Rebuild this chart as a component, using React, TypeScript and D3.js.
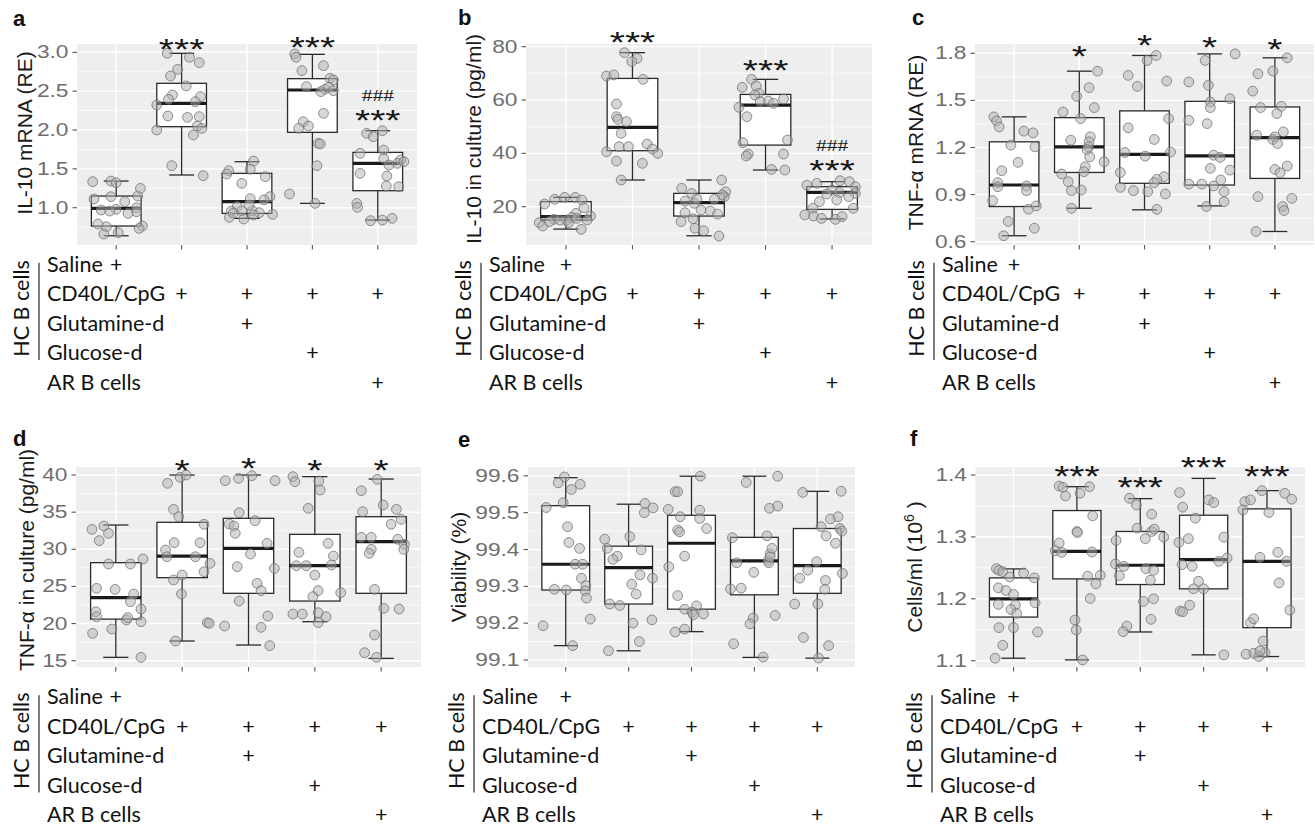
import React from "react";
import * as d3 from "d3";

// ---------------- shared data ----------------
const categories = ["Saline", "CD40L/CpG", "Glutamine-d", "Glucose-d", "AR B cells"];
const tableRows = ["Saline", "CD40L/CpG", "Glutamine-d", "Glucose-d", "AR B cells"];
const plusMarks = [
  [1, 0, 0, 0, 0],
  [0, 1, 1, 1, 1],
  [0, 0, 1, 0, 0],
  [0, 0, 0, 1, 0],
  [0, 0, 0, 0, 1],
];
const groupLabel = "HC B cells";

// ---------------- panel a ----------------
const aTicks = [1.0, 1.5, 2.0, 2.5, 3.0];
const aDomain = [0.52, 3.107];
const aBoxes = [
  [0.639, 0.764, 0.991, 1.15, 1.343],
  [1.421, 2.043, 2.343, 2.601, 2.987],
  [0.863, 0.927, 1.077, 1.442, 1.592],
  [1.056, 1.97, 2.515, 2.661, 2.974],
  [0.841, 1.219, 1.571, 1.712, 1.991],
];
const aPoints = [
  [[-0.36, 1.335], [-0.08, 1.343], [0, 1.322], [-0.34, 1.112], [-0.08, 1.142], [0.13, 1.077], [0.33, 1.15], [0.37, 1.249], [-0.23, 0.97], [0, 0.979], [-0.1, 0.957], [0.31, 1.0], [0.31, 0.948], [0.4, 0.764], [-0.15, 0.755], [-0.19, 0.661], [0.03, 0.678], [0.35, 0.734], [-0.28, 0.79], [0.18, 0.927]],
  [[-0.22, 2.987], [0.12, 2.936], [0.27, 2.867], [-0.06, 2.781], [-0.17, 2.695], [0.07, 2.567], [-0.14, 2.451], [0.29, 2.429], [-0.2, 2.395], [0.21, 2.365], [-0.38, 2.322], [-0.21, 2.18], [0.09, 2.163], [0.27, 2.172], [0.24, 2.052], [0.31, 2.021], [-0.38, 2.0], [0.18, 1.936], [-0.15, 1.541], [0.33, 1.412]],
  [[0.1, 1.601], [-0.28, 1.476], [0.05, 1.494], [-0.31, 1.433], [0.28, 1.399], [-0.08, 1.313], [0.35, 1.142], [0.05, 1.116], [-0.15, 1.013], [-0.24, 0.957], [-0.08, 0.961], [0.08, 0.961], [0.19, 0.936], [0.39, 0.914], [-0.27, 0.876], [-0.05, 0.854], [0.1, 0.906], [-0.21, 0.93], [0.26, 1.1], [0.03, 1.034]],
  [[-0.27, 2.979], [-0.25, 2.936], [-0.16, 2.764], [0.17, 2.828], [-0.09, 2.558], [0.27, 2.665], [0.32, 2.644], [0.19, 2.524], [0.13, 2.494], [0.25, 2.55], [0.17, 2.215], [-0.14, 2.107], [-0.06, 2.052], [-0.21, 2.021], [0.09, 1.828], [0.12, 1.82], [0.07, 1.541], [-0.35, 1.176], [0.04, 1.056], [0.32, 2.506]],
  [[-0.17, 1.957], [0.07, 1.991], [-0.07, 1.914], [-0.27, 1.7], [0.09, 1.742], [0.09, 1.635], [0.35, 1.614], [0.3, 1.571], [0.17, 1.549], [-0.27, 1.442], [0.14, 1.408], [0.32, 1.27], [0.13, 1.279], [-0.32, 1.056], [-0.31, 1.004], [-0.11, 0.833], [0.07, 0.841], [0.22, 0.863], [0.4, 1.592]],
];
const aSig = [
  { cat: 1, text: "***", value: 3.136 },
  { cat: 3, text: "***", value: 3.158 },
  { cat: 4, text: "###", value: 2.45 },
  { cat: 4, text: "***", value: 2.215 },
];

// ---------------- panel b ----------------
const bTicks = [20, 40, 60, 80];
const bDomain = [5.64, 81.0];
const bBoxes = [
  [11.6, 15.0, 16.25, 21.9, 23.5],
  [30.0, 41.0, 49.75, 68.1, 77.75],
  [9.1, 16.5, 21.5, 25.0, 30.0],
  [33.75, 43.1, 58.1, 62.1, 67.75],
  [15.4, 19.0, 25.4, 27.5, 29.4],
];
const bPoints = [
  [[-0.32, 21.0], [-0.17, 22.75], [-0.02, 23.5], [0.14, 23.5], [0.24, 22.5], [0.27, 19.6], [0.15, 17.5], [0.09, 16.0], [0.01, 15.0], [0.37, 16.5], [-0.18, 15.25], [-0.4, 14.0], [-0.35, 12.75], [-0.25, 14.4], [0.04, 14.0], [0.23, 11.5], [-0.09, 15.0], [0.32, 15.0], [0.16, 15.6]],
  [[-0.12, 77.75], [0.07, 75.6], [-0.01, 74.4], [-0.39, 69.0], [-0.28, 69.4], [0.16, 67.75], [-0.24, 58.5], [-0.24, 53.75], [-0.22, 52.75], [-0.09, 51.9], [-0.17, 47.5], [-0.39, 40.6], [-0.2, 42.5], [-0.06, 42.5], [0.22, 43.5], [0.3, 41.6], [0.38, 40.0], [-0.24, 37.1], [0.15, 36.25], [-0.17, 30.0]],
  [[0.34, 30.0], [-0.26, 26.9], [-0.11, 25.0], [0.4, 25.6], [0.38, 23.75], [-0.21, 22.1], [-0.07, 21.25], [0.23, 22.75], [0.03, 18.75], [0.17, 18.4], [0.28, 17.25], [-0.21, 17.75], [-0.09, 15.5], [-0.27, 14.4], [-0.06, 11.9], [0.07, 11.0], [0.3, 9.0], [0.35, 24.4], [-0.03, 22.9]],
  [[-0.21, 67.75], [-0.35, 64.75], [-0.14, 65.25], [-0.1, 62.5], [-0.16, 61.9], [0.04, 59.6], [0.12, 58.75], [0.27, 60.4], [-0.4, 57.25], [-0.28, 53.75], [-0.34, 44.0], [0.33, 45.0], [-0.26, 39.75], [-0.29, 39.0], [0.27, 39.75], [0.09, 34.0], [0.29, 33.75], [-0.08, 59.4]],
  [[-0.23, 28.75], [0.12, 29.75], [0.26, 29.4], [0.35, 27.5], [-0.38, 28.1], [0.0, 26.25], [0.11, 25.25], [0.35, 25.0], [-0.08, 24.75], [-0.19, 21.9], [0.07, 22.5], [0.25, 23.75], [-0.29, 19.4], [0.32, 19.4], [-0.28, 16.5], [-0.16, 15.6], [0.05, 15.25], [0.15, 16.25], [-0.41, 16.9]],
];
const bSig = [
  { cat: 1, text: "***", value: 84.4 },
  { cat: 3, text: "***", value: 73.8 },
  { cat: 4, text: "###", value: 43.1 },
  { cat: 4, text: "***", value: 36.3 },
];

// ---------------- panel c ----------------
const cTicks = [0.6, 0.9, 1.2, 1.5, 1.8];
const cDomain = [0.579, 1.859];
const cBoxes = [
  [0.638, 0.824, 0.961, 1.236, 1.395],
  [0.813, 1.041, 1.204, 1.39, 1.686],
  [0.803, 0.972, 1.156, 1.433, 1.786],
  [0.828, 0.961, 1.147, 1.494, 1.796],
  [0.665, 1.003, 1.263, 1.458, 1.771],
];
const cPoints = [
  [[-0.31, 1.395], [-0.27, 1.369], [-0.23, 1.331], [0.15, 1.304], [0.29, 1.293], [-0.05, 1.215], [0.32, 1.204], [0.06, 1.105], [-0.19, 1.052], [-0.25, 0.976], [-0.25, 0.95], [0.19, 0.955], [0.19, 0.925], [-0.33, 0.862], [0.22, 0.807], [0.34, 0.828], [-0.09, 0.729], [0.31, 0.686], [-0.16, 0.638]],
  [[0.28, 1.686], [0.15, 1.581], [-0.04, 1.526], [0.23, 1.454], [-0.25, 1.426], [0.02, 1.384], [-0.13, 1.246], [0.17, 1.268], [0.15, 1.236], [0.14, 1.204], [0.12, 1.187], [0.16, 1.14], [0.38, 1.109], [0.09, 1.077], [0.07, 1.046], [-0.27, 1.031], [-0.17, 0.982], [-0.12, 0.925], [0.03, 0.929], [-0.12, 0.813]],
  [[0.04, 1.754], [0.18, 1.786], [-0.25, 1.659], [-0.11, 1.589], [0.34, 1.623], [-0.25, 1.325], [0.37, 1.384], [0.15, 1.251], [-0.3, 1.168], [0.01, 1.145], [0.4, 1.171], [-0.37, 1.041], [0.3, 1.014], [0.19, 0.997], [0.15, 0.976], [-0.37, 0.946], [-0.17, 0.925], [0.05, 0.919], [0.32, 0.904], [0.19, 0.806]],
  [[0.39, 1.796], [-0.07, 1.754], [-0.32, 1.617], [-0.02, 1.596], [0.31, 1.511], [0.01, 1.49], [0.01, 1.454], [-0.32, 1.373], [-0.04, 1.352], [0.06, 1.151], [0.16, 1.137], [0.01, 1.067], [0.31, 1.056], [-0.32, 0.967], [-0.12, 0.967], [0.06, 0.955], [0.17, 0.993], [0.22, 0.919], [0.22, 0.855], [-0.05, 0.824]],
  [[0.19, 1.771], [-0.26, 1.669], [-0.03, 1.686], [-0.34, 1.559], [-0.22, 1.454], [0.1, 1.462], [0.03, 1.416], [0.13, 1.3], [-0.28, 1.278], [0.0, 1.268], [-0.03, 1.251], [0.04, 1.225], [0.0, 1.06], [0.08, 1.039], [0.19, 1.082], [-0.26, 0.887], [0.26, 0.876], [0.12, 0.824], [0.14, 0.798], [-0.29, 0.665]],
];
const cSig = [
  { cat: 1, text: "*", value: 1.83 },
  { cat: 2, text: "*", value: 1.895 },
  { cat: 3, text: "*", value: 1.888 },
  { cat: 4, text: "*", value: 1.873 },
];

// ---------------- panel d ----------------
const dTicks = [15, 20, 25, 30, 35, 40];
const dDomain = [14.15, 41.08];
const dBoxes = [
  [15.45, 20.6, 23.48, 28.2, 33.27],
  [17.65, 26.18, 29.09, 33.63, 40.0],
  [17.11, 24.07, 30.13, 34.17, 40.0],
  [20.25, 23.03, 27.79, 32.01, 39.78],
  [15.31, 24.07, 31.02, 34.39, 39.46],
];
const dPoints = [
  [[-0.36, 32.68], [-0.18, 33.13], [-0.11, 32.15], [-0.25, 31.16], [-0.11, 28.02], [0.22, 28.02], [0.41, 28.69], [-0.29, 24.74], [-0.01, 24.6], [0.27, 23.98], [0.22, 22.94], [0.38, 21.96], [-0.3, 21.6], [-0.29, 20.92], [0.16, 20.48], [0.18, 20.79], [0.38, 20.25], [-0.06, 19.26], [-0.35, 18.68], [0.38, 15.45]],
  [[-0.22, 38.88], [-0.03, 39.69], [0.06, 40.0], [-0.13, 35.38], [-0.05, 34.39], [0.33, 33.36], [-0.25, 29.9], [-0.12, 30.89], [0.27, 30.89], [-0.23, 29.0], [0.2, 29.0], [0.33, 26.98], [0.42, 28.1], [0.0, 26.53], [-0.13, 25.86], [-0.01, 23.98], [0.38, 20.12], [0.41, 20.03], [-0.1, 17.65]],
  [[-0.35, 39.24], [-0.15, 39.55], [0.05, 39.91], [0.4, 39.24], [-0.29, 33.4], [-0.22, 33.13], [-0.14, 34.93], [0.1, 33.85], [-0.2, 32.15], [0.28, 30.8], [0.03, 29.36], [-0.17, 27.66], [0.39, 27.43], [0.13, 25.41], [0.19, 24.43], [-0.14, 23.03], [0.29, 21.01], [-0.36, 19.67], [0.19, 19.49], [0.32, 17.02]],
  [[-0.33, 39.78], [-0.3, 39.1], [0.06, 39.19], [0.08, 37.98], [-0.1, 35.51], [0.2, 30.8], [-0.24, 29.59], [-0.28, 27.79], [-0.13, 27.79], [0.28, 29.09], [0.25, 27.88], [0.0, 26.53], [0.05, 24.43], [-0.03, 23.62], [0.39, 24.16], [-0.33, 21.28], [-0.19, 21.28], [0.05, 21.46], [0.17, 20.92], [0.05, 20.12]],
  [[-0.3, 37.89], [-0.28, 35.06], [-0.06, 39.42], [0.03, 35.96], [0.23, 35.38], [0.3, 34.03], [0.15, 33.36], [-0.3, 31.61], [-0.15, 31.61], [0.25, 31.34], [-0.15, 29.99], [-0.18, 29.45], [0.35, 30.67], [0.34, 29.99], [-0.1, 24.6], [0.04, 22.05], [0.27, 21.96], [-0.1, 18.46], [-0.25, 16.08], [-0.07, 15.45]],
];
const dSig = [
  { cat: 1, text: "*", value: 41.66 },
  { cat: 2, text: "*", value: 41.93 },
  { cat: 3, text: "*", value: 41.58 },
  { cat: 4, text: "*", value: 41.58 },
];

// ---------------- panel e ----------------
const eTicks = [99.1, 99.2, 99.3, 99.4, 99.5, 99.6];
const eDomain = [99.081, 99.624];
const eBoxes = [
  [99.139, 99.29, 99.36, 99.519, 99.595],
  [99.125, 99.252, 99.351, 99.409, 99.523],
  [99.177, 99.238, 99.417, 99.493, 99.599],
  [99.107, 99.277, 99.369, 99.433, 99.599],
  [99.105, 99.281, 99.356, 99.457, 99.558],
];
const ePoints = [
  [[-0.02, 99.597], [-0.12, 99.581], [0.23, 99.577], [0.09, 99.563], [-0.31, 99.514], [-0.04, 99.527], [0.03, 99.462], [0.05, 99.419], [0.22, 99.403], [0.15, 99.36], [0.27, 99.36], [0.25, 99.322], [0.32, 99.302], [0.31, 99.288], [-0.18, 99.292], [0.01, 99.29], [0.33, 99.268], [0.39, 99.211], [-0.36, 99.193], [0.11, 99.139]],
  [[0.26, 99.525], [0.39, 99.513], [0.25, 99.5], [0.02, 99.435], [-0.38, 99.428], [-0.34, 99.403], [0.2, 99.399], [-0.18, 99.382], [-0.25, 99.373], [0.18, 99.331], [0.38, 99.322], [0.05, 99.306], [0.12, 99.279], [-0.3, 99.252], [-0.14, 99.248], [0.07, 99.2], [0.37, 99.209], [0.17, 99.15], [-0.32, 99.125]],
  [[0.14, 99.599], [-0.26, 99.557], [-0.22, 99.557], [-0.37, 99.509], [0.13, 99.507], [0.13, 99.484], [-0.18, 99.489], [0.24, 99.457], [-0.22, 99.453], [-0.19, 99.448], [-0.11, 99.382], [-0.36, 99.353], [-0.22, 99.275], [-0.11, 99.238], [0.08, 99.247], [0.01, 99.23], [0.03, 99.223], [0.19, 99.225], [-0.26, 99.176], [-0.11, 99.184]],
  [[-0.13, 99.582], [0.37, 99.599], [0.24, 99.512], [0.37, 99.518], [-0.35, 99.432], [0.2, 99.437], [-0.28, 99.364], [-0.01, 99.338], [0.22, 99.37], [0.25, 99.388], [0.28, 99.403], [0.23, 99.364], [-0.38, 99.293], [-0.21, 99.295], [0.33, 99.221], [-0.02, 99.214], [-0.07, 99.198], [-0.33, 99.144], [0.14, 99.108], [0.25, 99.38]],
  [[-0.23, 99.555], [0.38, 99.558], [0.21, 99.483], [0.33, 99.489], [0.36, 99.457], [0.39, 99.45], [0.06, 99.462], [0.14, 99.437], [0.29, 99.417], [-0.15, 99.344], [-0.01, 99.367], [-0.28, 99.322], [0.4, 99.335], [0.13, 99.316], [0.12, 99.292], [-0.36, 99.252], [0.01, 99.252], [-0.22, 99.161], [0.18, 99.139], [0.02, 99.105]],
];
const eSig: { cat: number; text: string; value: number }[] = [];

// ---------------- panel f ----------------
const fTicks = [1.1, 1.2, 1.3, 1.4];
const fDomain = [1.0898, 1.413];
const fBoxes = [
  [1.104, 1.1705, 1.2, 1.2338, 1.2483],
  [1.1013, 1.2322, 1.2767, 1.3426, 1.3812],
  [1.1464, 1.2231, 1.2542, 1.3088, 1.3619],
  [1.1094, 1.2161, 1.2633, 1.3351, 1.3946],
  [1.1067, 1.1534, 1.2606, 1.3453, 1.3748],
];
const fPoints = [
  [[-0.27, 1.2488], [-0.23, 1.2461], [-0.17, 1.244], [0.16, 1.2418], [0.33, 1.2338], [-0.06, 1.2354], [-0.24, 1.2177], [-0.12, 1.2134], [0.0, 1.207], [-0.24, 1.1909], [0.03, 1.1898], [0.34, 1.1936], [-0.04, 1.1828], [0.05, 1.1764], [-0.23, 1.1534], [0.0, 1.1534], [0.38, 1.1464], [-0.17, 1.1249], [-0.29, 1.104]],
  [[-0.28, 1.3823], [-0.22, 1.3802], [-0.18, 1.3662], [0.05, 1.3705], [0.2, 1.3812], [0.25, 1.334], [0.0, 1.3088], [0.01, 1.3072], [-0.28, 1.2901], [-0.34, 1.2777], [-0.24, 1.2751], [0.24, 1.2756], [0.17, 1.2365], [0.37, 1.2381], [0.3, 1.2241], [0.21, 1.2005], [-0.03, 1.1657], [-0.01, 1.1496], [0.09, 1.1013]],
  [[-0.17, 1.3625], [-0.06, 1.3517], [0.18, 1.3367], [-0.05, 1.3142], [0.18, 1.3088], [0.22, 1.3126], [0.37, 1.2997], [0.08, 1.2971], [-0.38, 1.2944], [-0.39, 1.2563], [-0.26, 1.2525], [0.09, 1.2488], [0.21, 1.2461], [-0.33, 1.2375], [0.16, 1.23], [0.05, 1.1957], [0.21, 1.2], [0.17, 1.1668], [-0.21, 1.156], [-0.27, 1.1469]],
  [[-0.38, 1.3716], [-0.33, 1.348], [0.08, 1.3598], [0.16, 1.3555], [-0.13, 1.3303], [0.32, 1.2997], [-0.39, 1.2911], [-0.24, 1.2971], [0.37, 1.2659], [0.24, 1.2606], [-0.34, 1.2552], [-0.18, 1.2525], [-0.08, 1.2284], [-0.16, 1.2161], [0.0, 1.2161], [-0.22, 1.1898], [-0.37, 1.1802], [-0.33, 1.1791], [0.32, 1.1094]],
  [[-0.35, 1.3571], [-0.26, 1.3598], [-0.08, 1.3748], [0.28, 1.3705], [0.39, 1.3609], [-0.38, 1.3437], [0.03, 1.3394], [0.17, 1.2751], [-0.11, 1.267], [0.31, 1.2606], [0.19, 1.2257], [0.36, 1.1818], [-0.26, 1.1614], [-0.21, 1.1678], [-0.06, 1.1319], [-0.21, 1.1121], [-0.13, 1.1067], [-0.03, 1.1131], [-0.11, 1.1158], [-0.33, 1.1105]],
];
const fSig = [
  { cat: 1, text: "***", value: 1.4099 },
  { cat: 2, text: "***", value: 1.3926 },
  { cat: 3, text: "***", value: 1.4249 },
  { cat: 4, text: "***", value: 1.4099 },
];

// ---------------- layout ----------------
const SANS = "'Liberation Sans', Arial, Helvetica, sans-serif";
const TABLE_FONT = "Lato, 'Open Sans', sans-serif";
const STRETCH = 1.3;

const panels = [
  { id: "a", ticks: aTicks, domain: aDomain, boxes: aBoxes, points: aPoints, sig: aSig, fmt: ".1f",
    title: "IL-10 mRNA (RE)", x0: 77, x1: 417, y0: 44, y1: 245, titleX: 32, titleY: 133, labelX: 13, labelY: 26, tableX: 47, tableY: 264.3 },
  { id: "b", ticks: bTicks, domain: bDomain, boxes: bBoxes, points: bPoints, sig: bSig, fmt: "d",
    title: "IL-10 in culture (pg/ml)", x0: 526, x1: 872, y0: 44, y1: 245, titleX: 481, titleY: 139, labelX: 458, labelY: 25, tableX: 489, tableY: 264.3 },
  { id: "c", ticks: cTicks, domain: cDomain, boxes: cBoxes, points: cPoints, sig: cSig, fmt: ".1f",
    title: "TNF-α mRNA (RE)", x0: 975, x1: 1314, y0: 44, y1: 245, titleX: 923, titleY: 142.5, labelX: 912, labelY: 25, tableX: 942, tableY: 264.3 },
  { id: "d", ticks: dTicks, domain: dDomain, boxes: dBoxes, points: dPoints, sig: dSig, fmt: "d",
    title: "TNF-α in culture (pg/ml)", x0: 76, x1: 421, y0: 467, y1: 667, titleX: 34, titleY: 560, labelX: 13, labelY: 446, tableX: 47, tableY: 696.7 },
  { id: "e", ticks: eTicks, domain: eDomain, boxes: eBoxes, points: ePoints, sig: eSig, fmt: ".1f",
    title: "Viability (%)", x0: 528, x1: 855, y0: 467, y1: 667, titleX: 466, titleY: 567, labelX: 458, labelY: 447, tableX: 482, tableY: 696.7 },
  { id: "f", ticks: fTicks, domain: fDomain, boxes: fBoxes, points: fPoints, sig: fSig, fmt: ".1f",
    title: "Cells/ml (10", sup: "6", x0: 975.5, x1: 1305, y0: 467, y1: 667, titleX: 922, titleY: 567, labelX: 910, labelY: 446, tableX: 940, tableY: 696.7 },
];

const ROW_GAP = 29.4;
const TABLE_FS = 21.5;

function Panel({ p }: { p: any }) {
  const idx = d3.range(categories.length);
  const x = d3.scalePoint<number>().domain(idx).range([p.x0, p.x1]).padding(0.6);
  const step = x.step();
  const y = d3.scaleLinear().domain(p.domain).range([p.y1, p.y0]);
  const tstep = p.ticks[1] - p.ticks[0];
  const minor = [...p.ticks.map((t: number) => t - tstep / 2), p.ticks[p.ticks.length - 1] + tstep / 2]
    .filter((v: number) => v > p.domain[0] && v < p.domain[1]);
  const fmt = d3.format(p.fmt);
  const boxW = step * 0.76;
  const capW = step * 0.38;
  const tableBase = (i: number) => p.tableY + i * ROW_GAP + TABLE_FS * 0.36;

  return (
    <g>
      <rect x={p.x0} y={p.y0} width={p.x1 - p.x0} height={p.y1 - p.y0} fill="#eeeeee" />
      {minor.map((v: number, i: number) => (
        <line key={"mn" + i} x1={p.x0} x2={p.x1} y1={y(v)} y2={y(v)} stroke="#fff" strokeWidth={0.7} />
      ))}
      {p.ticks.map((v: number, i: number) => (
        <line key={"mj" + i} x1={p.x0} x2={p.x1} y1={y(v)} y2={y(v)} stroke="#fff" strokeWidth={1.4} />
      ))}
      {idx.map((c) => (
        <line key={"vx" + c} x1={x(c)} x2={x(c)} y1={p.y0} y2={p.y1} stroke="#fff" strokeWidth={1.4} />
      ))}

      {p.boxes.map((b: number[], c: number) => {
        const cx = x(c) as number;
        return (
          <g key={"bx" + c} stroke="#2b2b2b" strokeWidth={1.3} fill="none">
            <line x1={cx} x2={cx} y1={y(b[4])} y2={y(b[3])} />
            <line x1={cx} x2={cx} y1={y(b[1])} y2={y(b[0])} />
            <line x1={cx - capW / 2} x2={cx + capW / 2} y1={y(b[4])} y2={y(b[4])} />
            <line x1={cx - capW / 2} x2={cx + capW / 2} y1={y(b[0])} y2={y(b[0])} />
            <rect x={cx - boxW / 2} y={y(b[3])} width={boxW} height={y(b[1]) - y(b[3])} fill="#fff" />
            <line x1={cx - boxW / 2} x2={cx + boxW / 2} y1={y(b[2])} y2={y(b[2])} strokeWidth={3.2} stroke="#1a1a1a" />
          </g>
        );
      })}

      {p.points.map((grp: number[][], c: number) =>
        grp.map((pt, k) => (
          <circle key={"pt" + c + "-" + k} cx={(x(c) as number) + pt[0] * step} cy={y(pt[1])} r={4.9}
            fill="rgba(175,175,175,0.5)" stroke="rgba(110,110,110,0.75)" strokeWidth={1} />
        ))
      )}

      {p.ticks.map((v: number, i: number) => (
        <g key={"yt" + i}>
          <line x1={p.x0 - 4.5} x2={p.x0} y1={y(v)} y2={y(v)} stroke="#555" strokeWidth={1.1} />
          <text transform={`translate(${p.x0 - 8.5},${y(v)}) scale(${STRETCH},1)`} textAnchor="end"
            dominantBaseline="central" fontFamily={SANS} fontSize={17.5} fill="#6e6e6e">
            {fmt(v)}
          </text>
        </g>
      ))}
      {idx.map((c) => (
        <line key={"xt" + c} x1={x(c)} x2={x(c)} y1={p.y1} y2={p.y1 + 4.5} stroke="#555" strokeWidth={1.1} />
      ))}

      <text transform={`translate(${p.titleX},${p.titleY}) rotate(-90)`} textAnchor="middle"
        fontFamily={SANS} fontSize={21} fill="#1a1a1a">
        {p.title}
        {p.sup ? <tspan dy={-8} fontSize={14}>{p.sup}</tspan> : null}
        {p.sup ? <tspan dy={8}> )</tspan> : null}
      </text>

      <text x={p.labelX} y={p.labelY} fontFamily={SANS} fontWeight="bold" fontSize={22} fill="#111">{p.id}</text>

      {p.sig.map((s: any, i: number) => {
        const isHash = s.text.startsWith("#");
        const fs = isHash ? 16.5 : 30;
        const yy = y(s.value) + (isHash ? 0.34 * fs : 0.57 * fs);
        return (
          <text key={"sg" + i} transform={`translate(${x(s.cat)},${yy}) scale(${STRETCH},1)`} textAnchor="middle"
            fontFamily={isHash ? "'Liberation Serif', 'Times New Roman', serif" : SANS} fontSize={fs} fill="#1a1a1a">
            {s.text}
          </text>
        );
      })}

      {tableRows.map((r, i) => (
        <text key={"tr" + i} x={p.tableX} y={tableBase(i)} fontFamily={TABLE_FONT} fontSize={TABLE_FS} fill="#111">{r}</text>
      ))}
      {plusMarks.map((row, i) =>
        row.map((m, c) =>
          m ? (
            <text key={"pm" + i + "-" + c} x={x(c)} y={tableBase(i)} textAnchor="middle" fontFamily={TABLE_FONT}
              fontSize={TABLE_FS} fill="#111">+</text>
          ) : null
        )
      )}
      <line x1={p.tableX - 8} x2={p.tableX - 8} y1={p.tableY - 1.5} y2={p.tableY + 3 * ROW_GAP + 7.5} stroke="#111" strokeWidth={1.1} />
      <text transform={`translate(${p.tableX - 18},${p.tableY + 1.5 * ROW_GAP}) rotate(-90)`} textAnchor="middle"
        fontFamily={TABLE_FONT} fontSize={TABLE_FS} fill="#111">{groupLabel}</text>
    </g>
  );
}

export default function App() {
  return (
    <svg width={1315} height={828} viewBox="0 0 1315 828" style={{ position: "absolute", left: 0, top: 0, background: "#fff" }}>
      <rect width={1315} height={828} fill="#fff" />
      {panels.map((p) => (
        <Panel key={p.id} p={p} />
      ))}
    </svg>
  );
}
